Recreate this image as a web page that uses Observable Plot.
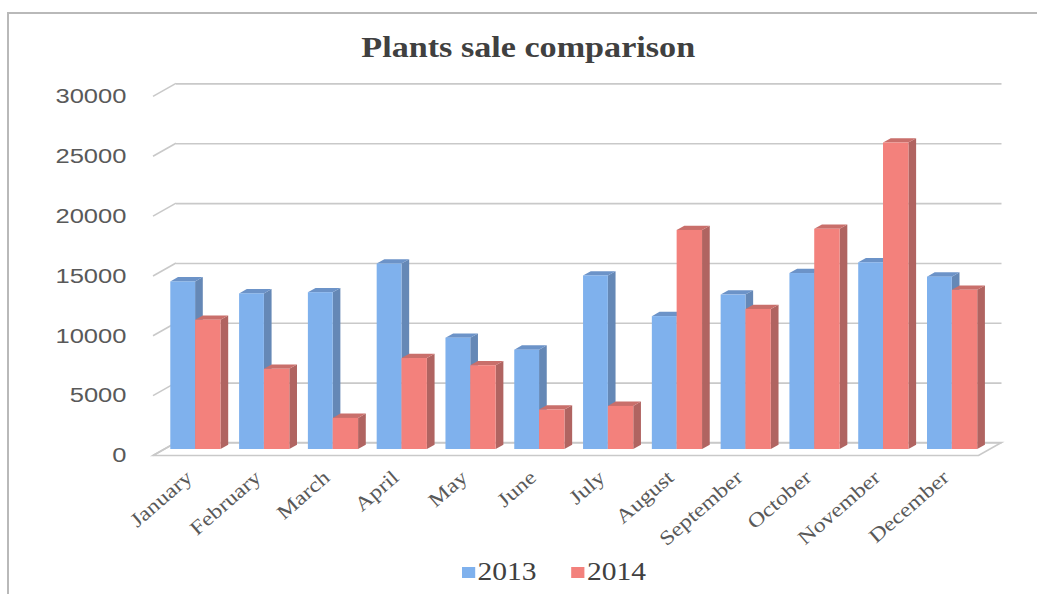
<!DOCTYPE html>
<html><head><meta charset="utf-8">
<script src="https://cdn.jsdelivr.net/npm/d3@7"></script>
<script src="https://cdn.jsdelivr.net/npm/@observablehq/plot@0.6"></script>
<style>
html,body{margin:0;padding:0;background:#fff;}
#wrap{position:relative;width:1037px;height:594px;overflow:hidden;}
#frame{position:absolute;left:7px;top:12px;width:1100px;height:700px;border-top:2px solid #b9b9b9;border-left:2px solid #b9b9b9;pointer-events:none;}
#title{height:70px;box-sizing:border-box;padding-top:31px;padding-left:19px;line-height:32px;text-align:center;font-family:"Liberation Serif","Times New Roman",serif;font-weight:bold;font-size:28.7px;color:#404040;}
#title span{display:inline-block;transform:scaleX(1.19);}
#legend{height:44px;margin-left:462px;transform:scaleX(1.2);transform-origin:0 50%;}
#legend .lg-swatches, #legend .lg-swatch{font-family:"Liberation Serif","Times New Roman",serif !important;font-size:24.6px !important;color:#404040 !important;}
#legend .lg-swatches-wrap{height:44px;min-height:44px;margin:0 !important;}
#legend .lg-swatch{margin-right:29px !important;}
#legend .lg-swatch svg{margin-right:2px !important;}
g[aria-label="y-axis tick label"] text{font-family:"Liberation Sans",Arial,sans-serif;font-size:19.5px;fill:#595959;}
g[aria-label="x-axis tick label"] text{font-family:"Liberation Serif","Times New Roman",serif;font-size:20px;fill:#595959;}
</style>
</head><body>
<div id="wrap">
  <div id="title"><span>Plants sale comparison</span></div>
  <div id="chart"></div>
  <div id="legend"></div>
  <div id="frame"></div>
</div>
<script>
// ---- data ----
const months = ["January","February","March","April","May","June","July","August","September","October","November","December"];
const series = ["2013","2014"];
const sales2013 = [14000,13000,13100,15500,9300,8300,14500,11100,12900,14700,15600,14400];
const sales2014 = [10800,6700,2600,7600,7000,3300,3600,18300,11700,18400,25600,13300];
const yTicks = [0,5000,10000,15000,20000,25000,30000];

// ---- styling ----
const colors = {
  "2013": {front:"#7FB1ED", side:"#6588B6", top:"#6C93C8"},
  "2014": {front:"#F3817C", side:"#B06461", top:"#C96F6B"}
};
const W = 1037, H = 480, mL = 164.5, mR = 47, mT = 19.9, mB = 101;
const BW = (W - mL - mR) / months.length;
const FX = 11.5, FY = 6.5;      // wall depth offsets (half)
const BX = 7.7, BY = 4.3;       // bar depth offsets
const face = {"2013": [5.8, 30.6], "2014": [30.6, 56.0]};

const rows = s => months.map((m, i) => ({month: m, year: s, value: (s === "2013" ? sales2013 : sales2014)[i]}));
const data13 = rows("2013"), data14 = rows("2014");

function walls(index, scales) {
  const x = scales.x, y = scales.y;
  const bw = x(months[1]) - x(months[0]);
  const x0 = x(months[0]), x1 = x(months[months.length-1]) + bw;
  const y0 = y(0);
  const g = d3.create("svg:g");
  g.append("path")
    .attr("d", `M${x0-FX},${y0+FY}L${x1-FX},${y0+FY}L${x1+FX},${y0-FY}L${x0+FX},${y0-FY}Z`)
    .attr("fill", "#fff").attr("stroke", "#c9c9c9").attr("stroke-width", 1.6);
  for (const v of yTicks) {
    g.append("path")
      .attr("d", `M${x0-FX},${y(v)+FY}L${x0+FX},${y(v)-FY}`)
      .attr("fill", "none").attr("stroke", "#c9c9c9").attr("stroke-width", 1.6);
  }
  return g.node();
}

function barSides(index, scales) {
  const x = scales.x, y = scales.y;
  const g = d3.create("svg:g");
  for (const d of data13.concat(data14)) {
    const [a, b] = face[d.year];
    const xl = x(d.month) + a, xr = x(d.month) + b;
    const yt = y(d.value), yb = y(0);
    g.append("path")
      .attr("d", `M${xr},${yt}L${xr+BX},${yt-BY}L${xr+BX},${yb-BY}L${xr},${yb}Z`)
      .attr("fill", colors[d.year].side);
    g.append("path")
      .attr("d", `M${xl},${yt}L${xl+BX},${yt-BY}L${xr+BX},${yt-BY}L${xr},${yt}Z`)
      .attr("fill", colors[d.year].top);
  }
  return g.node();
}

const chart = Plot.plot({
  width: W, height: H,
  marginLeft: mL, marginRight: mR, marginTop: mT, marginBottom: mB,
  style: {background: "transparent", overflow: "visible"},
  x: {type: "band", domain: months, padding: 0, round: false},
  y: {domain: [0, 30000]},
  marks: [
    walls,
    Plot.ruleY(yTicks, {y: d => d, dx: FX, dy: -FY, stroke: "#c9c9c9", strokeWidth: 1.6, strokeOpacity: 1}),
    barSides,
    Plot.barY(data13, {x: "month", y: "value", fill: colors["2013"].front, insetLeft: face["2013"][0], insetRight: BW - face["2013"][1]}),
    Plot.barY(data14, {x: "month", y: "value", fill: colors["2014"].front, insetLeft: face["2014"][0], insetRight: BW - face["2014"][1]}),
    Plot.axisY(yTicks, {tickSize: 0, tickPadding: 38.5, dy: FY, label: null, tickFormat: d => String(d)}),
    Plot.axisX({tickSize: 0, tickPadding: 25, tickRotate: -41, dx: -10, label: null})
  ]
});
document.getElementById("chart").appendChild(chart);

const legend = Plot.legend({
  color: {type: "ordinal", domain: series, range: series.map(s => colors[s].front)},
  className: "lg", swatchSize: 11
});
legend.style.setProperty("font-family", "'Liberation Serif','Times New Roman',serif", "important");
legend.style.setProperty("font-size", "24.6px", "important");
legend.style.setProperty("color", "#404040", "important");
document.getElementById("legend").appendChild(legend);

// horizontal stretch of tick labels, like the reference
chart.querySelectorAll('g[aria-label="y-axis tick label"] text').forEach(t => {
  const L = t.getComputedTextLength();
  t.setAttribute("textLength", L * 1.31); t.setAttribute("lengthAdjust", "spacingAndGlyphs");
});
chart.querySelectorAll('g[aria-label="x-axis tick label"] text').forEach(t => {
  const L = t.getComputedTextLength();
  t.setAttribute("textLength", L * 1.2); t.setAttribute("lengthAdjust", "spacingAndGlyphs");
});
</script>
</body></html>
